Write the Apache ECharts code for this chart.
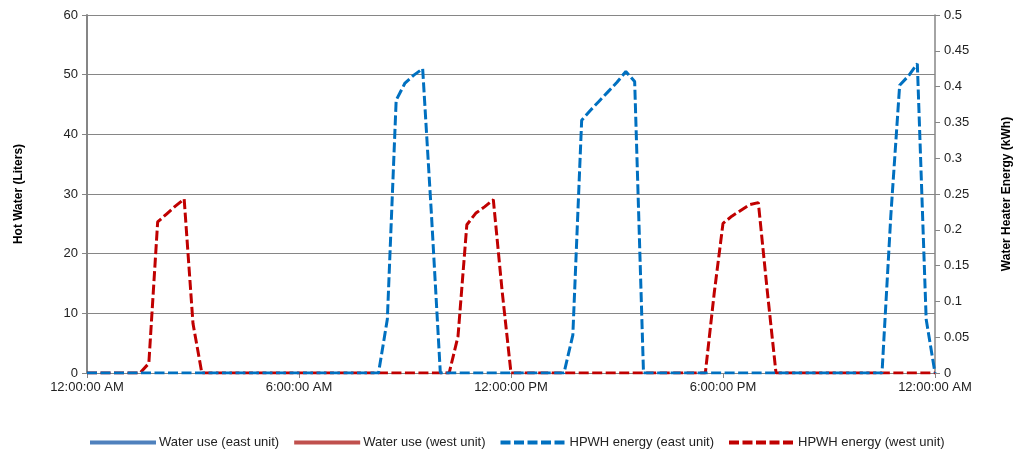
<!DOCTYPE html>
<html>
<head>
<meta charset="utf-8">
<script src="https://cdn.jsdelivr.net/npm/echarts@6/dist/echarts.min.js"></script>
<style>
html,body{margin:0;padding:0;background:#fff;}
#chart{width:1015px;height:451px;}
</style>
</head>
<body>
<div id="chart"></div>
<script>
// x positions are hours since midnight
var xTickLabels = {0:'12:00:00 AM', 6:'6:00:00 AM', 12:'12:00:00 PM', 18:'6:00:00 PM', 24:'12:00:00 AM'};

var seriesNames = ['Water use (east unit)', 'Water use (west unit)', 'HPWH energy (east unit)', 'HPWH energy (west unit)'];

// Water use (liters) - no visible line in the reference
var waterEastTimes = [];
var waterEastLiters = [];
var waterWestTimes = [];
var waterWestLiters = [];

// HPWH energy (kWh), east unit
var eastTimes = [0, 8.25, 8.5, 8.75, 9.0, 9.25, 9.5, 9.75, 10.0, 13.5, 13.75, 14.0, 14.25, 14.5, 14.75, 15.0, 15.25, 15.5, 15.75, 22.5, 22.75, 23.0, 23.25, 23.5, 23.75, 24];
var eastKWh   = [0, 0, 0.075, 0.381, 0.405, 0.416, 0.425, 0.22, 0, 0, 0.053, 0.353, 0.367, 0.380, 0.393, 0.406, 0.421, 0.407, 0, 0, 0.22, 0.402, 0.415, 0.432, 0.075, 0];

// HPWH energy (kWh), west unit
var westTimes = [0, 1.5, 1.75, 2.0, 2.25, 2.5, 2.75, 3.0, 3.25, 10.25, 10.5, 10.75, 11.0, 11.25, 11.5, 11.75, 12.0, 17.5, 17.75, 18.0, 18.25, 18.5, 18.75, 19.0, 19.25, 19.5, 24];
var westKWh   = [0, 0, 0.0135, 0.211, 0.222, 0.233, 0.243, 0.069, 0, 0, 0.051, 0.207, 0.223, 0.232, 0.242, 0.114, 0, 0, 0.111, 0.209, 0.219, 0.227, 0.235, 0.238, 0.116, 0, 0];

function pairs(t, v){ var out=[]; for(var i=0;i<t.length;i++) out.push([t[i], v[i]]); return out; }

var FONT = '"Liberation Sans", Arial, sans-serif';
var GRAY = '#868686';

var chart = echarts.init(document.getElementById('chart'), null, {renderer:'canvas'});
chart.setOption({
  animation:false,
  backgroundColor:'#fff',
  grid:{left:87, right:80, top:15, bottom:78, containLabel:false, outerBoundsMode:'none'},
  legend:{
    left:83, top:431,
    itemWidth:66, itemHeight:12, itemGap:13,
    itemStyle:{opacity:0},
    lineStyle:{width:4},
    textStyle:{fontFamily:FONT, fontSize:13, color:'#222', padding:[0,0,0,-2]},
    data:seriesNames
  },
  xAxis:{
    type:'value', min:0, max:24, interval:6,
    axisLine:{show:true, lineStyle:{color:GRAY, width:1}},
    axisTick:{show:true, inside:false, length:5, lineStyle:{color:GRAY}},
    splitLine:{show:false},
    axisLabel:{fontFamily:FONT, fontSize:13, color:'#222', margin:8,
      formatter:function(v){ return xTickLabels[v] !== undefined ? xTickLabels[v] : ''; }}
  },
  yAxis:[{
    type:'value', min:0, max:60, interval:10, position:'left',
    name:'Hot Water (Liters)', nameLocation:'middle', nameRotate:90, nameGap:62,
    nameTextStyle:{fontFamily:FONT, fontSize:12, fontWeight:'bold', color:'#000'},
    axisLine:{show:true, lineStyle:{color:GRAY, width:2}},
    axisTick:{show:true, inside:false, length:5, lineStyle:{color:GRAY}},
    splitLine:{show:true, lineStyle:{color:GRAY, width:1}},
    axisLabel:{fontFamily:FONT, fontSize:13, color:'#222', margin:9}
  },{
    type:'value', min:0, max:0.5, interval:0.05, position:'right',
    name:'Water Heater Energy (kWh)', nameLocation:'middle', nameRotate:90, nameGap:66,
    nameTextStyle:{fontFamily:FONT, fontSize:12, fontWeight:'bold', color:'#000'},
    axisLine:{show:true, lineStyle:{color:GRAY, width:1.5}},
    axisTick:{show:true, inside:false, length:5, lineStyle:{color:GRAY}},
    splitLine:{show:false},
    axisLabel:{fontFamily:FONT, fontSize:13, color:'#222', margin:9,
      formatter:function(v){ return String(Math.round(v*100)/100); }}
  }],
  series:[
    {name:seriesNames[0], type:'line', yAxisIndex:0, symbol:'none', data:pairs(waterEastTimes, waterEastLiters),
     lineStyle:{color:'#4F81BD', width:3}, itemStyle:{color:'#4F81BD'}, z:1},
    {name:seriesNames[1], type:'line', yAxisIndex:0, symbol:'none', data:pairs(waterWestTimes, waterWestLiters),
     lineStyle:{color:'#C0504D', width:3}, itemStyle:{color:'#C0504D'}, z:1},
    {name:seriesNames[2], type:'line', yAxisIndex:1, symbol:'none', data:pairs(eastTimes, eastKWh),
     lineStyle:{color:'#0070C0', width:3, type:[10,3.5]}, itemStyle:{color:'#0070C0'}, z:4},
    {name:seriesNames[3], type:'line', yAxisIndex:1, symbol:'none', data:pairs(westTimes, westKWh),
     lineStyle:{color:'#C00000', width:3, type:[10,3.5]}, itemStyle:{color:'#C00000'}, z:3}
  ]
});
</script>
</body>
</html>
